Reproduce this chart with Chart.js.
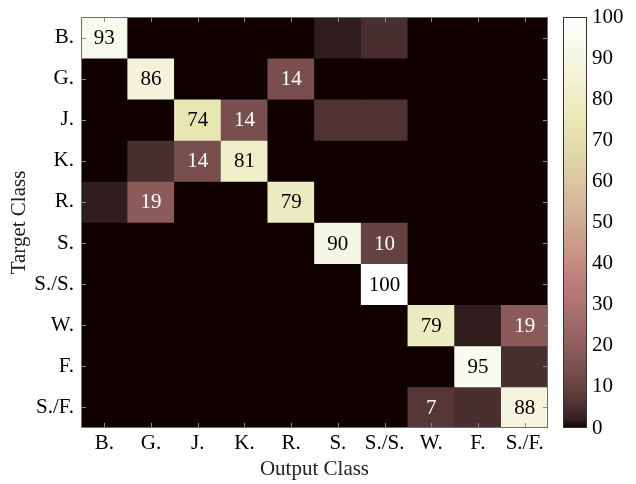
<!DOCTYPE html>
<html>
<head>
<meta charset="utf-8">
<script src="https://cdn.jsdelivr.net/npm/chart.js@4/dist/chart.umd.min.js"></script>
<style>
    body { margin: 0; background: #fff; }
    canvas { display: block; }
</style>
</head>
<body>
<canvas id="grafico" width="636" height="484"></canvas>
<script>
// clases (filas = objetivo, columnas = salida)
const outputClasses = ['B.', 'G.', 'J.', 'K.', 'R.', 'S.', 'S./S.', 'W.', 'F.', 'S./F.'];
const targetClasses = ['B.', 'G.', 'J.', 'K.', 'R.', 'S.', 'S./S.', 'W.', 'F.', 'S./F.'];

// porcentajes por fila
const rowB  = [93, 0, 0, 0, 0, 2, 5, 0, 0, 0];
const rowG  = [0, 86, 0, 0, 14, 0, 0, 0, 0, 0];
const rowJ  = [0, 0, 74, 14, 0, 6, 6, 0, 0, 0];
const rowK  = [0, 5, 14, 81, 0, 0, 0, 0, 0, 0];
const rowR  = [2, 19, 0, 0, 79, 0, 0, 0, 0, 0];
const rowS  = [0, 0, 0, 0, 0, 90, 10, 0, 0, 0];
const rowSS = [0, 0, 0, 0, 0, 0, 100, 0, 0, 0];
const rowW  = [0, 0, 0, 0, 0, 0, 0, 79, 2, 19];
const rowF  = [0, 0, 0, 0, 0, 0, 0, 0, 95, 5];
const rowSF = [0, 0, 0, 0, 0, 0, 0, 7, 5, 88];

const colorbarTicks = [0, 10, 20, 30, 40, 50, 60, 70, 80, 90, 100];
const labelMin = 7;

const matrix = [rowB, rowG, rowJ, rowK, rowR, rowS, rowSS, rowW, rowF, rowSF];

const serif = 'Liberation Serif, Times New Roman, serif';

// mapa de color "pink" (sqrt de 2/3 gris + 1/3 hot)
function pink(t) {
    const i = t * 63;
    const hr = Math.min(1, (i + 0.3) / 24);
    const hg = Math.min(1, Math.max(0, (i - 23) / 24));
    const hb = Math.min(1, Math.max(0, (i - 47) / 16));
    const r = Math.sqrt((2 * t + hr) / 3);
    const g = Math.sqrt((2 * t + hg) / 3);
    const b = Math.sqrt((2 * t + hb) / 3);
    return `rgb(${Math.round(r * 255)},${Math.round(g * 255)},${Math.round(b * 255)})`;
}

// quita el relleno que Chart.js agrega por las etiquetas
function fixScale(s, size) {
    if (s.isHorizontal()) s.height = size; else s.width = size;
    s.paddingTop = 0;
    s.paddingBottom = 0;
    s.paddingLeft = 0;
    s.paddingRight = 0;
}

const datasets = targetClasses.map((name, r) => ({
    label: name,
    data: matrix[r].map(() => [r - 0.5, r + 0.5]),
    values: matrix[r],
    backgroundColor: matrix[r].map(v => pink(v / 100)),
    borderWidth: 0,
    grouped: false,
    barPercentage: 1,
    categoryPercentage: 1,
    yAxisID: 'y'
}));

// fondo, textos de celdas, marco, marcas y barra de color
const heatmapPlugin = {
    id: 'heatmapPlugin',
    beforeDatasetsDraw(chart) {
        const { ctx, chartArea: a } = chart;
        ctx.save();
        ctx.fillStyle = pink(0);
        ctx.fillRect(a.left, a.top, a.right - a.left, a.bottom - a.top);
        ctx.restore();
    },
    afterDatasetsDraw(chart) {
        const { ctx, chartArea: a, scales } = chart;
        ctx.save();
        ctx.font = '21px ' + serif;
        ctx.textAlign = 'center';
        ctx.textBaseline = 'middle';
        chart.data.datasets.forEach((ds, r) => {
            const meta = chart.getDatasetMeta(r);
            meta.data.forEach((bar, c) => {
                const v = ds.values[c];
                if (v < labelMin) return;
                ctx.fillStyle = v < 50 ? '#fff' : '#000';
                ctx.fillText(String(v), bar.x, (bar.y + bar.base) / 2 + 1);
            });
        });

        // marcas interiores
        ctx.strokeStyle = '#8c8c8c';
        ctx.lineWidth = 1;
        ctx.beginPath();
        outputClasses.forEach((_, i) => {
            const x = Math.round(scales.x.getPixelForValue(i)) + 0.5;
            ctx.moveTo(x, a.top); ctx.lineTo(x, a.top + 5);
            ctx.moveTo(x, a.bottom); ctx.lineTo(x, a.bottom - 5);
        });
        targetClasses.forEach((_, i) => {
            const y = Math.round(scales.y.getPixelForValue(i)) + 0.5;
            ctx.moveTo(a.left, y); ctx.lineTo(a.left + 5, y);
            ctx.moveTo(a.right, y); ctx.lineTo(a.right - 5, y);
        });
        ctx.stroke();

        ctx.strokeStyle = '#6e6e6e';
        ctx.strokeRect(a.left + 0.5, a.top + 0.5, a.right - a.left - 1, a.bottom - a.top - 1);

        // barra de color
        const cb = scales.cb;
        const x0 = a.right + 15, x1 = a.right + 39;
        const yTop = cb.getPixelForValue(100), yBot = cb.getPixelForValue(0);
        const grad = ctx.createLinearGradient(0, yBot, 0, yTop);
        for (let k = 0; k <= 50; k++) grad.addColorStop(k / 50, pink(k / 50));
        ctx.fillStyle = grad;
        ctx.fillRect(x0, yTop, x1 - x0, yBot - yTop);
        ctx.strokeStyle = '#333';
        ctx.strokeRect(x0 + 0.5, yTop + 0.5, x1 - x0 - 1, yBot - yTop - 1);
        ctx.restore();
    }
};

new Chart(document.getElementById('grafico').getContext('2d'), {
    type: 'bar',
    data: { labels: outputClasses, datasets: datasets },
    options: {
        responsive: false,
        animation: false,
        devicePixelRatio: 1,
        layout: { padding: { top: 17, right: 0, bottom: 0, left: 0 } },
        plugins: { legend: { display: false }, tooltip: { enabled: false } },
        scales: {
            x: {
                type: 'category',
                offset: true,
                grid: { display: false, drawTicks: false },
                border: { display: false },
                ticks: { padding: 3, color: '#000', font: { family: serif, size: 21 } },
                title: {
                    display: true, text: 'Output Class', color: '#222',
                    font: { family: serif, size: 21 }, padding: { top: 0, bottom: 2 }
                },
                afterFit: s => fixScale(s, 56)
            },
            y: {
                type: 'linear',
                reverse: true,
                min: -0.5,
                max: 9.5,
                grid: { display: false, drawTicks: false },
                border: { display: false },
                afterBuildTicks: s => { s.ticks = targetClasses.map((_, i) => ({ value: i })); },
                ticks: {
                    padding: 7, color: '#000', font: { family: serif, size: 21 },
                    callback: v => targetClasses[v]
                },
                title: {
                    display: true, text: 'Target Class', color: '#222',
                    font: { family: serif, size: 21 }, padding: { top: 7, bottom: 0 }
                },
                afterFit: s => fixScale(s, 81)
            },
            cb: {
                type: 'linear',
                position: 'right',
                min: 0,
                max: 100,
                grid: {
                    display: true, drawOnChartArea: false, drawTicks: true,
                    tickLength: 38, tickColor: 'rgba(0,0,0,0)'
                },
                border: { display: false },
                afterBuildTicks: s => { s.ticks = colorbarTicks.map(v => ({ value: v })); },
                ticks: { padding: 6, color: '#000', font: { family: serif, size: 21 } },
                afterFit: s => fixScale(s, 88)
            }
        }
    },
    plugins: [heatmapPlugin]
});
</script>
</body>
</html>
